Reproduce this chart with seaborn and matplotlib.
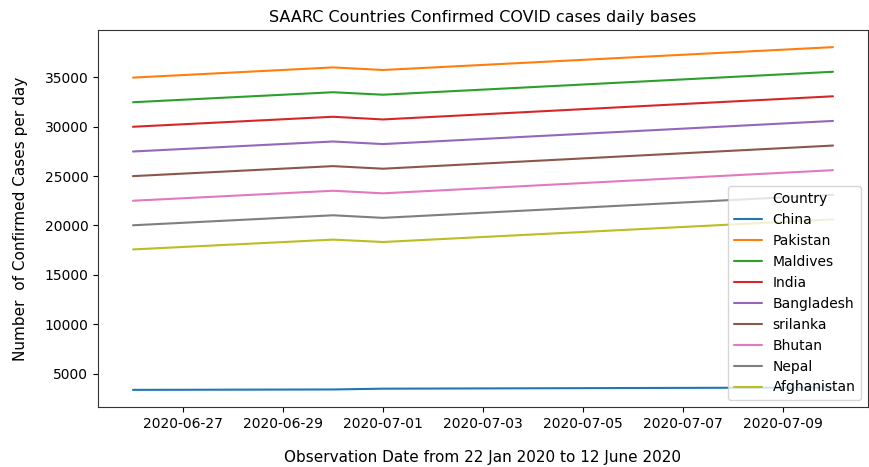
import matplotlib
matplotlib.use("Agg")
import matplotlib.pyplot as plt
import seaborn as sns
import pandas as pd
import numpy as np
from matplotlib.lines import Line2D

dates = ["2020-06-26", "2020-06-30", "2020-07-01", "2020-07-10"]
countries = ["China", "Pakistan", "Maldives", "India", "Bangladesh",
             "srilanka", "Bhutan", "Nepal", "Afghanistan"]
china = [3380, 3420, 3500, 3620]
pakistan = [34950, 35980, 35720, 38030]
maldives = [32460, 33470, 33220, 35540]
india = [29980, 30990, 30720, 33060]
bangladesh = [27480, 28490, 28230, 30570]
srilanka = [24990, 26000, 25740, 28080]
bhutan = [22500, 23510, 23250, 25590]
nepal = [20020, 21030, 20770, 23100]
afghanistan = [17580, 18570, 18330, 20610]

series = [china, pakistan, maldives, india, bangladesh, srilanka, bhutan, nepal, afghanistan]
rows = []
for c, vals in zip(countries, series):
    for d, v in zip(dates, vals):
        rows.append({"Date": pd.Timestamp(d), "Confirmed": v, "Country": c})
df = pd.DataFrame(rows)

sns.set_style("ticks")
plt.rcParams["font.family"] = ["DejaVu Sans"]
plt.rcParams["text.color"] = "black"
plt.rcParams["axes.labelcolor"] = "black"
plt.rcParams["xtick.color"] = "black"
plt.rcParams["ytick.color"] = "black"
plt.rcParams["axes.edgecolor"] = "#333333"
fig = plt.figure(figsize=(8.7, 4.67), dpi=100)
ax = fig.add_axes([98/870, 1-407/467, 770/870, (407-30)/467])
sns.lineplot(data=df, x="Date", y="Confirmed", hue="Country",
             hue_order=countries, palette="tab10", ax=ax, linewidth=1.5)

ax.set_title("SAARC Countries Confirmed COVID cases daily bases", fontsize=11.5)
ax.set_xlabel("Observation Date from 22 Jan 2020 to 12 June 2020", fontsize=11, labelpad=14)
ax.set_ylabel("Number  of Confirmed Cases per day", fontsize=11, labelpad=12)
ax.set_yticks([5000, 10000, 15000, 20000, 25000, 30000, 35000])
ax.xaxis.set_major_locator(matplotlib.dates.DayLocator(interval=2))
ax.xaxis.set_major_formatter(matplotlib.dates.DateFormatter("%Y-%m-%d"))
ax.tick_params(labelsize=10)
ax.set_xlim(pd.Timestamp("2020-06-26") - pd.Timedelta(hours=16.8),
            pd.Timestamp("2020-07-10") + pd.Timedelta(hours=16.8))

handles, labels = ax.get_legend_handles_labels()
blank = Line2D([], [], linestyle="none", label="Country")
ax.legend([blank] + handles, ["Country"] + labels, loc="lower right", fontsize=10)

fig.savefig("out.png", dpi=100)
